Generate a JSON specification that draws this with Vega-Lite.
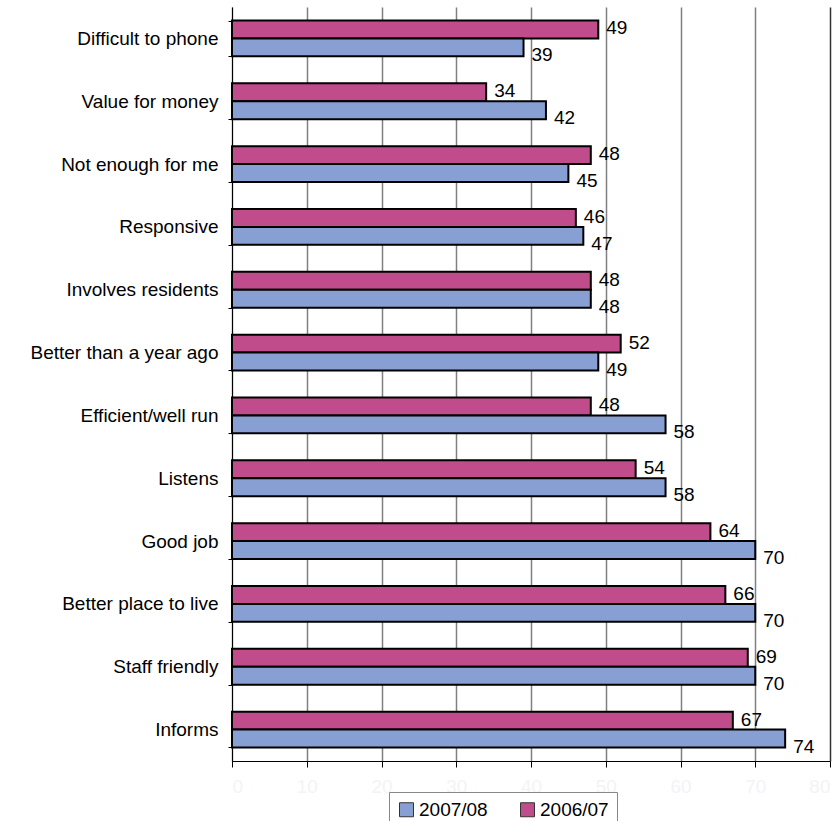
{
  "$schema": "https://vega.github.io/schema/vega-lite/v6.json",
  "width": 598,
  "height": 754,
  "autosize": {"type": "none"},
  "padding": {"left": 232, "top": 7, "right": 6, "bottom": 60},
  "background": "white",
  "config": {
    "font": "Liberation Sans",
    "view": {"stroke": null}
  },
  "data": {
    "values": [
      {"category": "Difficult to phone", "series": "2006/07", "value": 49},
      {"category": "Difficult to phone", "series": "2007/08", "value": 39},
      {"category": "Value for money", "series": "2006/07", "value": 34},
      {"category": "Value for money", "series": "2007/08", "value": 42},
      {"category": "Not enough for me", "series": "2006/07", "value": 48},
      {"category": "Not enough for me", "series": "2007/08", "value": 45},
      {"category": "Responsive", "series": "2006/07", "value": 46},
      {"category": "Responsive", "series": "2007/08", "value": 47},
      {"category": "Involves residents", "series": "2006/07", "value": 48},
      {"category": "Involves residents", "series": "2007/08", "value": 48},
      {"category": "Better than a year ago", "series": "2006/07", "value": 52},
      {"category": "Better than a year ago", "series": "2007/08", "value": 49},
      {"category": "Efficient/well run", "series": "2006/07", "value": 48},
      {"category": "Efficient/well run", "series": "2007/08", "value": 58},
      {"category": "Listens", "series": "2006/07", "value": 54},
      {"category": "Listens", "series": "2007/08", "value": 58},
      {"category": "Good job", "series": "2006/07", "value": 64},
      {"category": "Good job", "series": "2007/08", "value": 70},
      {"category": "Better place to live", "series": "2006/07", "value": 66},
      {"category": "Better place to live", "series": "2007/08", "value": 70},
      {"category": "Staff friendly", "series": "2006/07", "value": 69},
      {"category": "Staff friendly", "series": "2007/08", "value": 70},
      {"category": "Informs", "series": "2006/07", "value": 67},
      {"category": "Informs", "series": "2007/08", "value": 74}
    ]
  },
  "encoding": {
    "y": {
      "field": "category",
      "type": "nominal",
      "sort": null,
      "title": null,
      "scale": {"paddingInner": 0.43, "paddingOuter": 0.215},
      "axis": {
        "tickBand": "extent",
        "domainColor": "#000000",
        "domainWidth": 1,
        "tickColor": "#000000",
        "tickSize": 4,
        "labelFontSize": 19,
        "labelColor": "#000000",
        "labelPadding": 10,
        "labelLimit": 240,
        "grid": false
      }
    },
    "x": {
      "field": "value",
      "type": "quantitative",
      "title": null,
      "scale": {"domain": [0, 80], "nice": false},
      "axis": {
        "values": [0, 10, 20, 30, 40, 50, 60, 70, 80],
        "domainColor": "#000000",
        "domainWidth": 1.2,
        "tickColor": "#000000",
        "tickSize": 6,
        "grid": true,
        "gridColor": {"condition": {"test": "datum.value === 80", "value": "#333333"}, "value": "#808080"},
        "gridWidth": 1.5,
        "labelColor": "#f3f3f7",
        "labelFontSize": 19,
        "labelPadding": 10
      }
    },
    "yOffset": {
      "field": "series",
      "type": "nominal",
      "sort": ["2006/07", "2007/08"],
      "scale": {"paddingInner": 0, "paddingOuter": 0}
    }
  },
  "layer": [
    {
      "mark": {"type": "bar", "stroke": "#000000", "strokeWidth": 2},
      "encoding": {
        "color": {
          "field": "series",
          "type": "nominal",
          "scale": {"domain": ["2007/08", "2006/07"], "range": ["#879fd2", "#c04c8c"]},
          "legend": {
            "title": null,
            "orient": "none",
            "direction": "horizontal",
            "legendX": 157,
            "legendY": 785,
            "symbolType": "square",
            "symbolSize": 196,
            "symbolStrokeColor": "#333333",
            "symbolStrokeWidth": 1,
            "symbolOpacity": 1,
            "labelFontSize": 19,
            "labelColor": "#000000",
            "labelOffset": 3,
            "columnPadding": 30,
            "strokeColor": "#888888",
            "fillColor": "#ffffff",
            "padding": 8
          }
        }
      }
    },
    {
      "transform": [{"filter": "datum.series === '2006/07'"}],
      "mark": {"type": "text", "align": "left", "baseline": "middle", "dx": 8, "dy": -1, "fontSize": 19, "color": "#000000"},
      "encoding": {"text": {"field": "value", "type": "quantitative"}}
    },
    {
      "transform": [{"filter": "datum.series === '2007/08'"}],
      "mark": {"type": "text", "align": "left", "baseline": "middle", "dx": 8, "dy": 8, "fontSize": 19, "color": "#000000"},
      "encoding": {"text": {"field": "value", "type": "quantitative"}}
    }
  ]
}
